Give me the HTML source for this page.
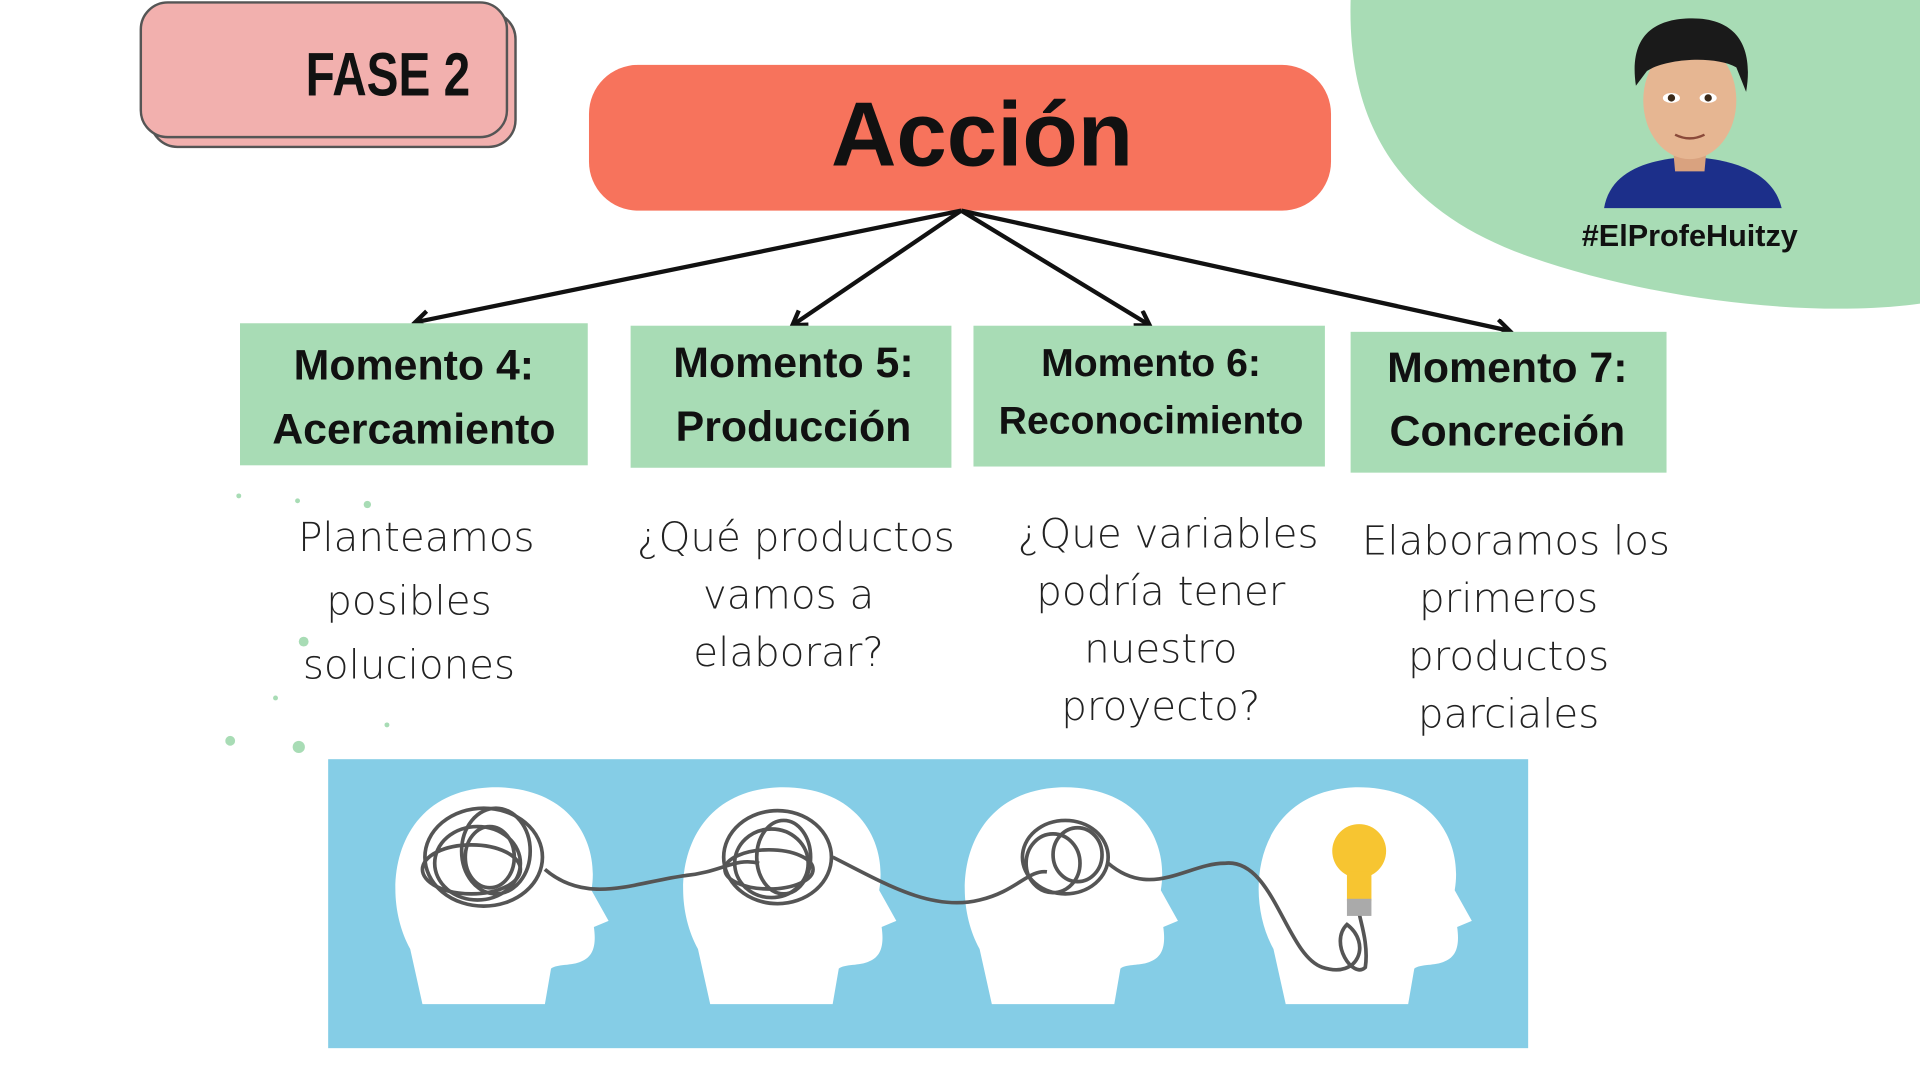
<!DOCTYPE html>
<html><head><meta charset="utf-8"><style>
html,body{margin:0;padding:0;background:#fff;width:1920px;height:1080px;overflow:hidden}
svg{display:block}
.b{font-family:"Liberation Sans","DejaVu Sans",sans-serif;font-weight:bold;fill:#111}
.h{font-family:"DejaVu Sans","Liberation Sans",sans-serif;font-weight:200;fill:#222;font-size:33px}
</style></head><body>
<svg width="1920" height="1080" viewBox="0 0 1568 882" xmlns="http://www.w3.org/2000/svg">
<defs>
<marker id="ar" markerWidth="18" markerHeight="18" refX="12" refY="8" orient="auto" markerUnits="userSpaceOnUse">
<path d="M2,1 L13,8 L2,15" fill="none" stroke="#111" stroke-width="3.5"/></marker>
<g id="head">
<path d="M-70,50 C-95,5 -85,-78 -5,-82 C60,-84 85,-38 78,2 L92,27 L80,32 C82,46 80,56 70,60 C62,64 50,62 45,66 L40,95 L-60,95 Z" fill="#fff"/>
</g>
</defs>
<path d="M1103,0 L1568,0 L1568,248 C1480,260 1350,245 1250,210 C1150,175 1100,110 1103,0 Z" fill="#a8dcb5"/>
<rect x="123" y="10" width="298" height="110" rx="22" fill="#f2b0ae" stroke="#555" stroke-width="2"/>
<rect x="115" y="2" width="299" height="110" rx="22" fill="#f2b0ae" stroke="#555" stroke-width="2"/>
<text x="384" y="78" text-anchor="end" class="b" font-size="50" fill="#222" transform="translate(384 0) scale(0.78 1) translate(-384 0)">FASE 2</text>
<rect x="481" y="53" width="606" height="119" rx="40" fill="#f7735c"/>
<text x="802" y="135" text-anchor="middle" class="b" font-size="74">Acción</text>
<g>
<path d="M1310,170 C1315,140 1345,130 1380,128 C1415,130 1448,140 1455,170 Z" fill="#1c2f8a"/>
<path d="M1366,118 L1394,118 L1392,140 L1368,140 Z" fill="#d9a27f"/>
<ellipse cx="1380" cy="82" rx="38" ry="48" fill="#e6b692"/>
<path d="M1336,70 C1330,30 1350,15 1382,15 C1420,15 1432,40 1426,75 L1418,55 C1400,45 1360,48 1345,58 Z" fill="#1a1a1a"/>
<ellipse cx="1365" cy="80" rx="7" ry="4" fill="#fff"/><ellipse cx="1395" cy="80" rx="7" ry="4" fill="#fff"/>
<circle cx="1365" cy="80" r="3" fill="#3a2a1a"/><circle cx="1395" cy="80" r="3" fill="#3a2a1a"/>
<path d="M1368,110 Q1380,116 1392,110" stroke="#8a4a3a" stroke-width="2" fill="none"/>
</g>
<text x="1380" y="201" text-anchor="middle" class="b" font-size="25" fill="#222">#ElProfeHuitzy</text>
<g stroke="#111" stroke-width="3.5" fill="none" marker-end="url(#ar)">
<line x1="785" y1="172" x2="340" y2="263"/>
<line x1="785" y1="172" x2="648" y2="265"/>
<line x1="785" y1="172" x2="938" y2="265"/>
<line x1="785" y1="172" x2="1232" y2="270"/>
</g>
<g fill="#a8dcb5">
<rect x="196" y="264" width="284" height="116"/>
<rect x="515" y="266" width="262" height="116"/>
<rect x="795" y="266" width="287" height="115"/>
<rect x="1103" y="271" width="258" height="115"/>
</g>
<g class="b" text-anchor="middle">
<text x="338" y="310" font-size="35">Momento 4:</text>
<text x="338" y="362" font-size="35">Acercamiento</text>
<text x="648" y="308" font-size="35">Momento 5:</text>
<text x="648" y="360" font-size="35">Producción</text>
<text x="940" y="307" font-size="32">Momento 6:</text>
<text x="940" y="354" font-size="32">Reconocimiento</text>
<text x="1231" y="312" font-size="35">Momento 7:</text>
<text x="1231" y="364" font-size="35">Concreción</text>
</g>
<g class="h" text-anchor="middle">
<text x="340" y="450">Planteamos</text>
<text x="334" y="502">posibles</text>
<text x="334" y="554">soluciones</text>
<text x="650" y="450">¿Qué productos</text>
<text x="644" y="497">vamos a</text>
<text x="644" y="544">elaborar?</text>
<text x="954" y="447">¿Que variables</text>
<text x="948" y="494">podría tener</text>
<text x="948" y="541">nuestro</text>
<text x="948" y="588">proyecto?</text>
<text x="1238" y="453">Elaboramos los</text>
<text x="1232" y="500">primeros</text>
<text x="1232" y="547">productos</text>
<text x="1232" y="594">parciales</text>
</g>
<g fill="#a8dcb5">
<circle cx="300" cy="412" r="3"/><circle cx="243" cy="409" r="2"/><circle cx="248" cy="524" r="4"/><circle cx="188" cy="605" r="4"/><circle cx="244" cy="610" r="5"/><circle cx="225" cy="570" r="2"/><circle cx="316" cy="592" r="2"/><circle cx="195" cy="405" r="2"/>
</g>
<rect x="268" y="620" width="980" height="236" fill="#85cde6"/>
<use href="#head" x="405" y="725"/>
<use href="#head" x="640" y="725"/>
<use href="#head" x="870" y="725"/>
<use href="#head" x="1110" y="725"/>
<g fill="none" stroke="#555" stroke-width="3">
<ellipse cx="395" cy="700" rx="48" ry="40"/><ellipse cx="390" cy="705" rx="35" ry="30"/><ellipse cx="405" cy="695" rx="28" ry="35"/><ellipse cx="385" cy="710" rx="40" ry="20"/><ellipse cx="400" cy="700" rx="20" ry="25"/>
<ellipse cx="635" cy="700" rx="44" ry="38"/><ellipse cx="630" cy="705" rx="30" ry="28"/><ellipse cx="640" cy="700" rx="22" ry="30"/><ellipse cx="628" cy="710" rx="36" ry="16"/>
<ellipse cx="870" cy="700" rx="35" ry="30"/><ellipse cx="860" cy="705" rx="22" ry="24"/><ellipse cx="880" cy="698" rx="20" ry="22"/>
<path d="M445,710 C480,740 520,720 560,715 C590,712 600,700 620,705 M680,700 C720,720 760,745 800,735 C830,728 840,710 855,712 M905,705 C940,735 970,705 1000,705 C1040,700 1050,780 1080,790 C1110,800 1120,770 1100,755 C1085,770 1105,800 1115,790 C1118,770 1110,750 1110,745"/>
</g>
<circle cx="1110" cy="695" r="22" fill="#f7c531"/>
<rect x="1100" y="712" width="20" height="24" fill="#f7c531"/>
<rect x="1100" y="734" width="20" height="14" fill="#aaa"/>
</svg>
</body></html>
